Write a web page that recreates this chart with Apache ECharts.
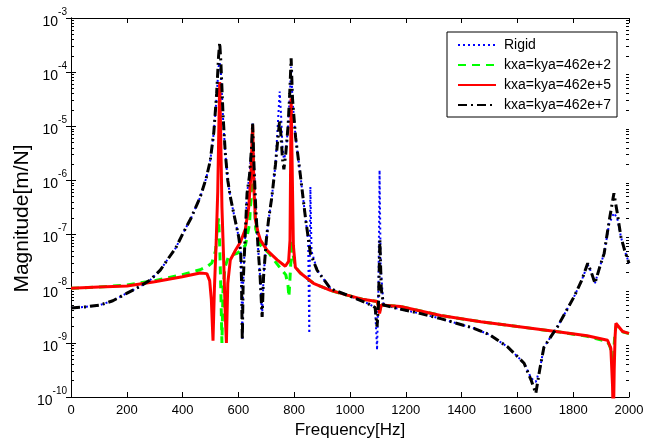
<!DOCTYPE html>
<html>
<head>
<meta charset="utf-8">
<script src="https://cdn.jsdelivr.net/npm/echarts@6/dist/echarts.min.js"></script>
<style>
html,body{margin:0;padding:0;background:#fff;}
#chart{width:647px;height:443px;}
</style>
</head>
<body>
<div id="chart"></div>
<script>
// ---- data ----
const seriesNames = ['Rigid', 'kxa=kya=462e+2', 'kxa=kya=462e+5', 'kxa=kya=462e+7'];
const xTicks = [0, 200, 400, 600, 800, 1000, 1200, 1400, 1600, 1800, 2000];
const yTickExponents = [-10, -9, -8, -7, -6, -5, -4, -3];

const rigidFreq = [0, 50, 104, 150, 201, 250, 284, 320, 345, 375, 402, 430, 463, 485, 499, 512, 522, 529, 533, 537, 545, 553, 562, 571, 583, 601, 608, 611, 614, 617, 622, 631, 640, 647, 651, 655, 662, 670, 678, 685, 690, 700, 708, 720, 733, 742, 748, 753, 758, 763, 770, 778, 784, 789, 794, 805, 822, 840, 850, 854, 858, 862, 882, 930, 990, 1062, 1090, 1097, 1102, 1106, 1110, 1120, 1180, 1250, 1325, 1444, 1500, 1564, 1600, 1624, 1650, 1666, 1680, 1695, 1744, 1803, 1830, 1852, 1865, 1878, 1895, 1911, 1929, 1946, 1958, 1971, 1985, 2000];
const rigidMag = [4.4e-9, 4.6e-9, 5.0e-9, 6.0e-9, 8.3e-9, 1.12e-8, 1.45e-8, 2.2e-8, 3.4e-8, 5.6e-8, 1.07e-7, 2.0e-7, 4.9e-7, 1.12e-6, 2.3e-6, 7.9e-6, 3.5e-5, 1.26e-4, 1.5e-4, 1.0e-4, 1.4e-5, 3.2e-6, 1.0e-6, 5.0e-7, 2.5e-7, 9.1e-8, 5.0e-8, 1.6e-8, 1.12e-9, 1.26e-8, 5.0e-8, 5.8e-7, 1.26e-6, 4.0e-6, 1.12e-5, 2.5e-6, 3.2e-7, 6.3e-8, 1.6e-8, 3.0e-9, 1.6e-8, 7.9e-8, 1.86e-7, 5.0e-7, 2.0e-6, 1.26e-5, 4.4e-5, 1.6e-5, 4.0e-6, 2.5e-6, 3.2e-6, 1.0e-5, 3.5e-5, 1.26e-4, 3.0e-5, 6.3e-6, 1.26e-6, 2.1e-7, 7.9e-8, 1.5e-9, 7.6e-7, 5.0e-8, 2.2e-8, 1.0e-8, 7.6e-9, 5.4e-9, 4.5e-9, 7.4e-10, 1.0e-8, 1.55e-6, 2.5e-8, 5.0e-9, 4.2e-9, 3.5e-9, 2.8e-9, 1.86e-9, 1.41e-9, 8.5e-10, 5.6e-10, 4.2e-10, 2.2e-10, 1.9e-10, 3.2e-10, 8.3e-10, 2.0e-9, 7.1e-9, 1.41e-8, 2.8e-8, 2.0e-8, 1.26e-8, 2.5e-8, 4.5e-8, 1.6e-7, 2.5e-7, 2.0e-7, 9.1e-8, 5.0e-8, 2.95e-8];

const soft2Freq = [0, 100, 201, 300, 399, 463, 490, 505, 512, 518, 524, 529, 533, 537, 541, 545, 552, 565, 596, 625, 640, 648, 651, 655, 662, 680, 710, 750, 770, 778, 781, 785, 790, 793, 797, 804, 822, 869, 930, 990, 1050, 1098, 1106, 1112, 1181, 1325, 1469, 1600, 1738, 1850, 1923, 1932, 1938, 1942, 1946, 1950, 1955, 1977, 2000];
const soft2Mag = [1.02e-8, 1.07e-8, 1.17e-8, 1.41e-8, 1.82e-8, 2.24e-8, 2.6e-8, 3.0e-8, 3.2e-8, 5.0e-8, 1.26e-7, 2.0e-7, 6.3e-8, 1.0e-8, 1.0e-9, 1.0e-8, 2.5e-8, 4.0e-8, 4.5e-8, 6.3e-8, 1.6e-7, 1.0e-6, 7.9e-6, 6.3e-7, 1.26e-7, 6.3e-8, 4.5e-8, 2.4e-8, 1.8e-8, 1.12e-8, 7.1e-9, 1.6e-8, 5.0e-8, 7.9e-8, 4.0e-8, 2.5e-8, 1.95e-8, 1.26e-8, 9.3e-9, 7.6e-9, 6.3e-9, 5.8e-9, 3.8e-9, 5.0e-9, 4.7e-9, 3.2e-9, 2.45e-9, 2.0e-9, 1.62e-9, 1.32e-9, 1.05e-9, 8.5e-10, 6.3e-10, 3.0e-10, 8.0e-10, 1.6e-9, 2.1e-9, 1.6e-9, 1.48e-9];

const soft5Freq = [0, 100, 201, 300, 399, 463, 487, 497, 503, 509, 514, 520, 526, 530, 533, 536, 541, 548, 553, 557, 562, 571, 590, 607, 625, 637, 645, 651, 656, 661, 670, 679, 703, 739, 768, 780, 785, 789, 792, 797, 804, 822, 869, 930, 990, 1050, 1098, 1106, 1112, 1181, 1325, 1469, 1600, 1738, 1850, 1923, 1935, 1941, 1944, 1947, 1950, 1953, 1960, 1977, 2000];
const soft5Mag = [1.02e-8, 1.07e-8, 1.12e-8, 1.35e-8, 1.66e-8, 1.95e-8, 1.9e-8, 1.41e-8, 6.3e-9, 1.1e-9, 1.0e-8, 6.3e-8, 6.3e-7, 1.0e-5, 6.6e-5, 1.0e-5, 3.2e-7, 2.5e-8, 3.2e-9, 1.0e-9, 1.26e-8, 3.4e-8, 5.2e-8, 7.2e-8, 1.26e-7, 3.2e-7, 1.26e-6, 1.05e-5, 6.3e-7, 1.86e-7, 1.12e-7, 7.9e-8, 5.1e-8, 3.4e-8, 2.6e-8, 3.2e-8, 7.9e-8, 3.3e-5, 3.2e-6, 6.3e-8, 2.5e-8, 1.95e-8, 1.26e-8, 9.3e-9, 7.6e-9, 6.3e-9, 5.8e-9, 3.5e-9, 5.0e-9, 4.7e-9, 3.2e-9, 2.45e-9, 2.0e-9, 1.62e-9, 1.35e-9, 1.12e-9, 7.9e-10, 1.6e-10, 3.0e-11, 3.2e-10, 1.26e-9, 2.3e-9, 2.2e-9, 1.62e-9, 1.5e-9];

const soft7Freq = [0, 50, 104, 150, 201, 250, 284, 320, 345, 375, 402, 430, 463, 485, 499, 512, 522, 529, 533, 537, 545, 553, 562, 571, 583, 601, 608, 611, 614, 617, 622, 631, 640, 647, 651, 655, 662, 670, 678, 685, 690, 700, 708, 720, 733, 742, 748, 753, 758, 763, 770, 778, 784, 789, 794, 805, 822, 840, 858, 882, 930, 990, 1062, 1090, 1097, 1102, 1107, 1112, 1120, 1180, 1250, 1325, 1444, 1500, 1564, 1600, 1624, 1650, 1666, 1680, 1695, 1744, 1803, 1830, 1852, 1865, 1878, 1895, 1911, 1929, 1946, 1958, 1971, 1985, 2000];
const soft7Mag = [4.4e-9, 4.6e-9, 5.0e-9, 6.0e-9, 8.3e-9, 1.12e-8, 1.45e-8, 2.2e-8, 3.4e-8, 5.6e-8, 1.07e-7, 2.0e-7, 4.9e-7, 1.12e-6, 2.3e-6, 7.9e-6, 4.0e-5, 2.0e-4, 3.5e-4, 1.6e-4, 1.6e-5, 3.2e-6, 1.0e-6, 5.0e-7, 2.5e-7, 9.1e-8, 5.0e-8, 1.6e-8, 1.12e-9, 1.26e-8, 5.0e-8, 5.8e-7, 1.26e-6, 4.0e-6, 1.12e-5, 2.5e-6, 3.2e-7, 6.3e-8, 1.6e-8, 3.0e-9, 1.6e-8, 7.9e-8, 1.86e-7, 5.0e-7, 2.0e-6, 6.3e-6, 1.3e-5, 6.3e-6, 2.5e-6, 1.6e-6, 3.2e-6, 1.0e-5, 4.0e-5, 1.8e-4, 3.2e-5, 6.3e-6, 1.26e-6, 2.1e-7, 4.5e-8, 2.2e-8, 1.0e-8, 7.6e-9, 5.4e-9, 4.5e-9, 2.0e-9, 5.0e-9, 7.9e-8, 1.0e-8, 5.0e-9, 4.2e-9, 3.5e-9, 2.8e-9, 1.86e-9, 1.41e-9, 8.5e-10, 5.6e-10, 4.2e-10, 2.0e-10, 1.17e-10, 3.2e-10, 8.3e-10, 2.0e-9, 7.1e-9, 1.41e-8, 2.95e-8, 2.0e-8, 1.26e-8, 2.5e-8, 4.5e-8, 1.8e-7, 5.8e-7, 2.5e-7, 9.1e-8, 5.0e-8, 2.95e-8];

// ---- build chart ----
function zip(xs, ys) { return xs.map((x, i) => [x, ys[i]]); }
const yMin = Math.pow(10, yTickExponents[0]);
const yMax = Math.pow(10, yTickExponents[yTickExponents.length - 1]);
const minorVals = [];
for (let i = 0; i < yTickExponents.length - 1; i++) {
  for (let k = 2; k <= 9; k++) minorVals.push(k * Math.pow(10, yTickExponents[i]));
}

const font = '"Liberation Sans", Arial, Helvetica, sans-serif';
const chart = echarts.init(document.getElementById('chart'), null, {renderer: 'canvas'});

const baseY = {
  type: 'log', logBase: 10, min: yMin, max: yMax, gridIndex: 0,
  splitLine: {show: false}, minorTick: {show: false}
};

chart.setOption({
  animation: false,
  backgroundColor: '#fff',
  textStyle: {fontFamily: font, color: '#000'},
  grid: {left: 71, right: 18, top: 18, bottom: 46, containLabel: false, outerBoundsMode: 'none'},
  legend: {
    orient: 'vertical', left: 447, top: 32,
    padding: [6, 6, 5, 10], itemWidth: 38, itemHeight: 14, itemGap: 6,
    borderColor: '#000', borderWidth: 1, borderRadius: 0, backgroundColor: '#fff',
    itemStyle: {opacity: 0},
    textStyle: {fontSize: 14, color: '#000', fontFamily: font, padding: [0, 0, 0, 3]},
    data: seriesNames
  },
  xAxis: [
    {
      type: 'value', min: xTicks[0], max: xTicks[xTicks.length - 1], interval: 200,
      position: 'bottom',
      axisLine: {show: true, lineStyle: {color: '#000', width: 1}},
      axisTick: {show: true, inside: true, length: 5, lineStyle: {color: '#000'}},
      axisLabel: {show: true, fontSize: 13, color: '#000', margin: 7, fontFamily: font,
        formatter: function (v) { return String(v); }},
      splitLine: {show: false},
      name: 'Frequency[Hz]', nameLocation: 'middle', nameGap: 25, nameMoveOverlap: false,
      nameTextStyle: {fontSize: 17, color: '#000', fontFamily: font}
    },
    {
      type: 'value', min: xTicks[0], max: xTicks[xTicks.length - 1], interval: 200,
      position: 'top',
      axisLine: {show: true, lineStyle: {color: '#000', width: 1}},
      axisTick: {show: true, inside: true, length: 5, lineStyle: {color: '#000'}},
      axisLabel: {show: false}, splitLine: {show: false}
    }
  ],
  yAxis: [
    Object.assign({}, baseY, {
      position: 'left',
      axisLine: {show: true, lineStyle: {color: '#000', width: 1}},
      axisTick: {show: true, inside: true, length: 5, lineStyle: {color: '#000'}},
      axisLabel: {
        show: true, margin: 4, color: '#000',
        formatter: function (v) { return '{b|10}{e|' + Math.round(Math.log10(v)) + '}'; },
        rich: {
          b: {fontSize: 14, fontFamily: font, color: '#000', lineHeight: 22, verticalAlign: 'bottom'},
          e: {fontSize: 10, fontFamily: font, color: '#000', lineHeight: 10, verticalAlign: 'top'}
        }
      },
      name: 'Magnitude[m/N]', nameLocation: 'middle', nameGap: 38, nameMoveOverlap: false,
      nameTextStyle: {fontSize: 21, color: '#000', fontFamily: font, padding: [0, 22, 0, 0]}
    }),
    Object.assign({}, baseY, {
      position: 'right',
      axisLine: {show: true, lineStyle: {color: '#000', width: 1}},
      axisTick: {show: true, inside: true, length: 5, lineStyle: {color: '#000'}},
      axisLabel: {show: false}
    }),
    Object.assign({}, baseY, {
      position: 'left',
      axisLine: {show: false},
      axisTick: {show: true, inside: true, length: 3, customValues: minorVals, lineStyle: {color: '#000'}},
      axisLabel: {show: false}
    }),
    Object.assign({}, baseY, {
      position: 'right',
      axisLine: {show: false},
      axisTick: {show: true, inside: true, length: 3, customValues: minorVals, lineStyle: {color: '#000'}},
      axisLabel: {show: false}
    })
  ],
  series: [
    {
      name: seriesNames[0], type: 'line', data: zip(rigidFreq, rigidMag),
      symbol: 'none', showSymbol: false, clip: true,
      lineStyle: {color: '#0000ff', width: 2, type: [2, 3]},
      itemStyle: {color: '#0000ff'}
    },
    {
      name: seriesNames[1], type: 'line', data: zip(soft2Freq, soft2Mag),
      symbol: 'none', showSymbol: false, clip: true,
      lineStyle: {color: '#00ff00', width: 3, type: [8, 6]},
      itemStyle: {color: '#00ff00'}
    },
    {
      name: seriesNames[2], type: 'line', data: zip(soft5Freq, soft5Mag),
      symbol: 'none', showSymbol: false, clip: true,
      lineStyle: {color: '#ff0000', width: 3, type: 'solid'},
      itemStyle: {color: '#ff0000'}
    },
    {
      name: seriesNames[3], type: 'line', data: zip(soft7Freq, soft7Mag),
      symbol: 'none', showSymbol: false, clip: true,
      lineStyle: {color: '#000000', width: 3, type: [9, 4, 2, 4]},
      itemStyle: {color: '#000000'}
    }
  ]
});
</script>
</body>
</html>
